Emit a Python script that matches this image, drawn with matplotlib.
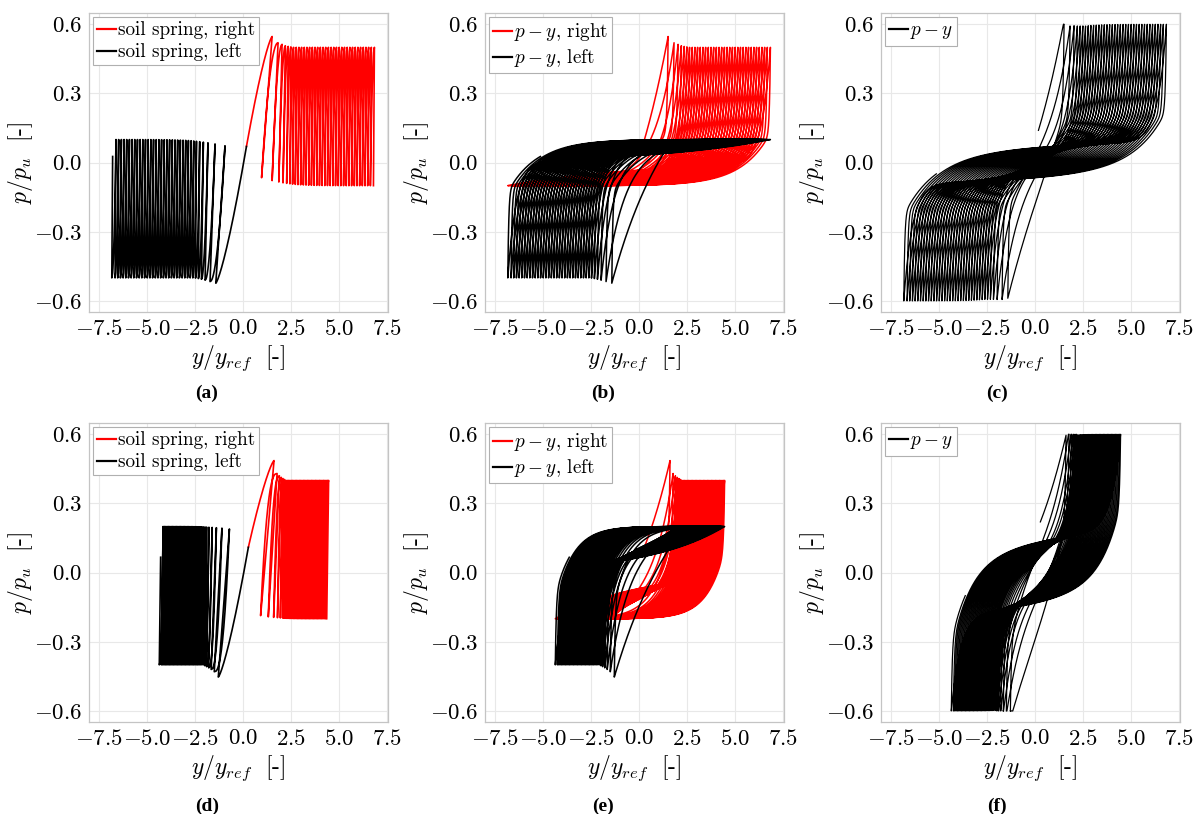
import numpy as np
import matplotlib
matplotlib.use("Agg")
import matplotlib.pyplot as plt

plt.rcParams["font.family"] = ["cmr10", "DejaVu Serif"]
plt.rcParams["mathtext.fontset"] = "cm"
plt.rcParams["axes.unicode_minus"] = False

# ---- cycle data, first row (capacity 0.5, drag 0.1) ----
peaks_right_1 = [1.52, 1.83, 2.04, 2.21, 2.36, 2.50, 2.64, 2.78, 2.92, 3.06, 3.20, 3.34,
                 3.48, 3.62, 3.76, 3.90, 4.04, 4.18, 4.32, 4.46, 4.60, 4.74, 4.88, 5.02,
                 5.16, 5.30, 5.44, 5.58, 5.72, 5.86, 6.00, 6.14, 6.28, 6.42, 6.56, 6.70, 6.86]
peaks_left_1 = [-1.42, -1.72, -1.98, -2.17, -2.33, -2.48, -2.62, -2.76, -2.90, -3.04, -3.18,
                -3.32, -3.46, -3.60, -3.74, -3.88, -4.02, -4.16, -4.30, -4.44, -4.58, -4.72,
                -4.86, -5.00, -5.14, -5.28, -5.42, -5.56, -5.70, -5.84, -5.98, -6.12, -6.26,
                -6.40, -6.54, -6.68, -6.85]
pmax_right_1 = [0.547, 0.520, 0.513, 0.507, 0.504, 0.502, 0.500]
pmax_left_1 = [0.523, 0.516, 0.510, 0.506, 0.503, 0.501, 0.500]
unload_right_1 = [0.55, 0.31, 0.17, 0.12, 0.08, 0.05]
unload_left_1 = [0.48, 0.26, 0.15, 0.10, 0.07, 0.05]
mu_right_1 = [3.0, 1.0, 0.7, 0.55, 0.5, 0.45]
mu_left_1 = [3.0, 1.0, 0.7, 0.55, 0.5, 0.45]

# ---- cycle data, second row (capacity 0.4, drag 0.2) ----
peaks_right_2 = [1.62, 1.78, 1.90, 2.00, 2.09, 2.17, 2.24, 2.31, 2.38, 2.45, 2.52, 2.59,
                 2.66, 2.73, 2.80, 2.87, 2.94, 3.01, 3.08, 3.15, 3.22, 3.29, 3.36, 3.43,
                 3.50, 3.57, 3.64, 3.71, 3.78, 3.85, 3.92, 3.99, 4.06, 4.13, 4.20, 4.27,
                 4.34, 4.41, 4.47]
peaks_left_2 = [-1.29, -1.50, -1.66, -1.79, -1.90, -1.99, -2.07, -2.15, -2.23, -2.30, -2.37,
                -2.44, -2.51, -2.58, -2.65, -2.72, -2.79, -2.86, -2.93, -3.00, -3.07, -3.14,
                -3.21, -3.28, -3.35, -3.42, -3.49, -3.56, -3.63, -3.70, -3.77, -3.84, -3.91,
                -3.98, -4.05, -4.12, -4.19, -4.26, -4.37]
pmax_right_2 = [0.486, 0.430, 0.420, 0.413, 0.408, 0.404, 0.400]
pmax_left_2 = [0.453, 0.430, 0.420, 0.413, 0.408, 0.404, 0.400]
unload_right_2 = [0.70, 0.46, 0.30, 0.20, 0.14, 0.10]
unload_left_2 = [0.58, 0.40, 0.27, 0.18, 0.12, 0.09]
mu_right_2 = [3.0, 1.0, 0.75, 0.6, 0.55, 0.5]
mu_left_2 = [3.0, 1.0, 0.75, 0.6, 0.55, 0.5]

ROWS = [
    dict(A=peaks_right_1, B=peaks_left_1, P=pmax_right_1, Pb=pmax_left_1,
         W=unload_right_1, Wb=unload_left_1, mu=mu_right_1, mub=mu_left_1,
         drag=0.1, c=0.0, lb=6.0, fe=0.62, e0=0.05, lam=1.5,
         y0=0.18, p0=0.07, tail=1.7, nrel=2.0),
    dict(A=peaks_right_2, B=peaks_left_2, P=pmax_right_2, Pb=pmax_left_2,
         W=unload_right_2, Wb=unload_left_2, mu=mu_right_2, mub=mu_left_2,
         drag=0.2, c=0.0, lb=4.0, fe=0.5, e0=0.05, lam=0.9,
         y0=0.28, p0=0.11, tail=0.73, nrel=2.5),
]


def pad(lst, n):
    return list(lst) + [lst[-1]] * (n - len(lst))


def seg(a, b):
    L = abs(b - a)
    d = np.unique(np.concatenate([np.linspace(0, L, 700), np.geomspace(1e-3, L, 120)]))
    return a + np.sign(b - a) * d, d


def climb(d, L, mu):
    e = np.exp(-L / mu)
    return (np.exp((d - L) / mu) - e) / (1 - e)


def run(R):
    A, B = R["A"], R["B"]
    N = len(A)
    P, Pb = pad(R["P"], N), pad(R["Pb"], N)
    W, Wb = pad(R["W"], N), pad(R["Wb"], N)
    mu, mub = pad(R["mu"], N), pad(R["mub"], N)
    drag, c, lb = R["drag"], R["c"], R["lb"]
    decay = lambda d: R["fe"] * np.exp(-d / R["e0"]) + (1 - R["fe"]) * np.exp(-d / R["lam"])
    out = {k: [] for k in ("red_a", "blk_a", "red_b", "blk_b", "tot")}
    p = q = R["p0"]
    ys = R["y0"]
    L_cur = U_cur = R["y0"]
    for k in range(N):
        n_k = 1.3 if k == 0 else R["nrel"]
        # pile moving right: right spring reloads, left spring unloads
        y, d = seg(ys, A[k])
        base = p + (c - p) * (1 - np.exp(-d / lb))
        pr = base + (P[k] - base[-1]) * climb(d, d[-1], mu[k])
        frac = np.clip((pr - p) / (P[k] - p), 0, 1)
        s_r = L_cur + (A[k] - L_cur) * (1 - (1 - frac) ** (1 / n_k))
        if k == 0:
            # left spring untouched until the first return
            qb = np.full_like(d, q)
        else:
            qb = drag + (q - drag) * decay(d)
            s_b = B[k - 1] + Wb[k - 1] * (qb - qb[0]) / (qb[-1] - qb[0])
            U_cur = B[k - 1] + Wb[k - 1]
            out["blk_a"].append((s_b, qb))
        out["red_b"].append((y, pr)); out["blk_b"].append((y, qb))
        out["red_a"].append((s_r, pr))
        out["tot"].append((y, np.clip(pr + qb, -0.6, 0.6)))
        p, q, ys = P[k], qb[-1], A[k]
        # pile moving left: right spring unloads, left spring reloads
        y, d = seg(ys, B[k])
        pr = -drag + (p + drag) * decay(d)
        base = q + (-c - q) * (1 - np.exp(-d / lb))
        qb = base + (-Pb[k] - base[-1]) * climb(d, d[-1], mub[k])
        s_r = A[k] - W[k] * (P[k] - pr) / (P[k] - pr[-1])
        L_cur = A[k] - W[k]
        frac = np.clip((q - qb) / (q + Pb[k]), 0, 1)
        s_b = U_cur + (B[k] - U_cur) * (1 - (1 - frac) ** (1 / n_k))
        out["red_b"].append((y, pr)); out["blk_b"].append((y, qb))
        out["red_a"].append((s_r, pr)); out["blk_a"].append((s_b, qb))
        out["tot"].append((y, np.clip(pr + qb, -0.6, 0.6)))
        p, q, ys = pr[-1], -Pb[k], B[k]
    # last partial return
    y, d = seg(ys, ys + R["tail"])
    pr = p + (c - p) * (1 - np.exp(-d / lb))
    qb = drag + (q - drag) * decay(d)
    s_b = B[-1] + Wb[-1] * (qb - qb[0]) / (drag - qb[0])
    out["red_b"].append((y, pr)); out["blk_b"].append((y, qb))
    out["blk_a"].append((s_b, qb))
    out["tot"].append((y, np.clip(pr + qb, -0.6, 0.6)))
    return {k: (np.concatenate([a for a, _ in v]), np.concatenate([b for _, b in v]))
            for k, v in out.items()}


xticks = [-7.5, -5.0, -2.5, 0.0, 2.5, 5.0, 7.5]
yticks = [-0.6, -0.3, 0.0, 0.3, 0.6]


def fmt(v):
    return r"$%.1f$" % v


def style(ax):
    ax.set_xlim(-8.04, 7.57)
    ax.set_ylim(-0.648, 0.649)
    ax.set_xticks(xticks)
    ax.set_xticklabels([fmt(v) for v in xticks])
    ax.set_yticks(yticks)
    ax.set_yticklabels([fmt(v) for v in yticks])
    ax.grid(True, color="#e8e8e8", lw=0.8)
    ax.set_axisbelow(True)
    for sp in ax.spines.values():
        sp.set_color("#c4c4c4")
        sp.set_linewidth(0.9)
    ax.tick_params(length=0, pad=5, labelsize=16.5)
    ax.set_xlabel(r"$y/y_{ref}\ $ [-]", fontsize=17, labelpad=3)
    ax.set_ylabel(r"$p/p_u\ $ [-]", fontsize=17, labelpad=-1)


def legend(ax):
    leg = ax.legend(loc="upper left", fontsize=13.8, handlelength=0.95, handletextpad=0.1,
                    borderpad=0.22, borderaxespad=0.22, labelspacing=0.2,
                    fancybox=False, framealpha=1)
    leg.get_frame().set_edgecolor("#b0b0b0")
    leg.get_frame().set_linewidth(0.8)
    for h in leg.get_lines():
        h.set_linewidth(1.6)


fig = plt.figure(figsize=(11.95, 8.14), dpi=100)
W_ax, H_ax = 299 / 1195, 299 / 814
lefts = [89 / 1195, 485 / 1195, 881 / 1195]
bottoms = [(814 - 312) / 814, (814 - 722) / 814]
tags = [["(a)", "(b)", "(c)"], ["(d)", "(e)", "(f)"]]
tag_x = [207 / 1195, 603 / 1195, 997 / 1195]
tag_y = [1 - 393 / 814, 1 - 806 / 814]

for r, R in enumerate(ROWS):
    res = run(R)
    ax_a = fig.add_axes([lefts[0], bottoms[r], W_ax, H_ax])
    ax_a.plot(*res["red_a"], color="red", lw=1.2, label="soil spring, right")
    ax_a.plot(*res["blk_a"], color="black", lw=1.2, label="soil spring, left")
    ax_b = fig.add_axes([lefts[1], bottoms[r], W_ax, H_ax])
    ax_b.plot(*res["red_b"], color="red", lw=1.1, label=r"$p-y$, right")
    ax_b.plot(*res["blk_b"], color="black", lw=1.1, label=r"$p-y$, left")
    ax_c = fig.add_axes([lefts[2], bottoms[r], W_ax, H_ax])
    ax_c.plot(*res["tot"], color="black", lw=0.9, label=r"$p-y$")
    for j, ax in enumerate((ax_a, ax_b, ax_c)):
        style(ax)
        legend(ax)
        fig.text(tag_x[j], tag_y[r], tags[r][j], ha="center", va="center",
                 fontsize=14, fontweight="bold", family="Liberation Serif")

fig.savefig("out.png", dpi=100)
